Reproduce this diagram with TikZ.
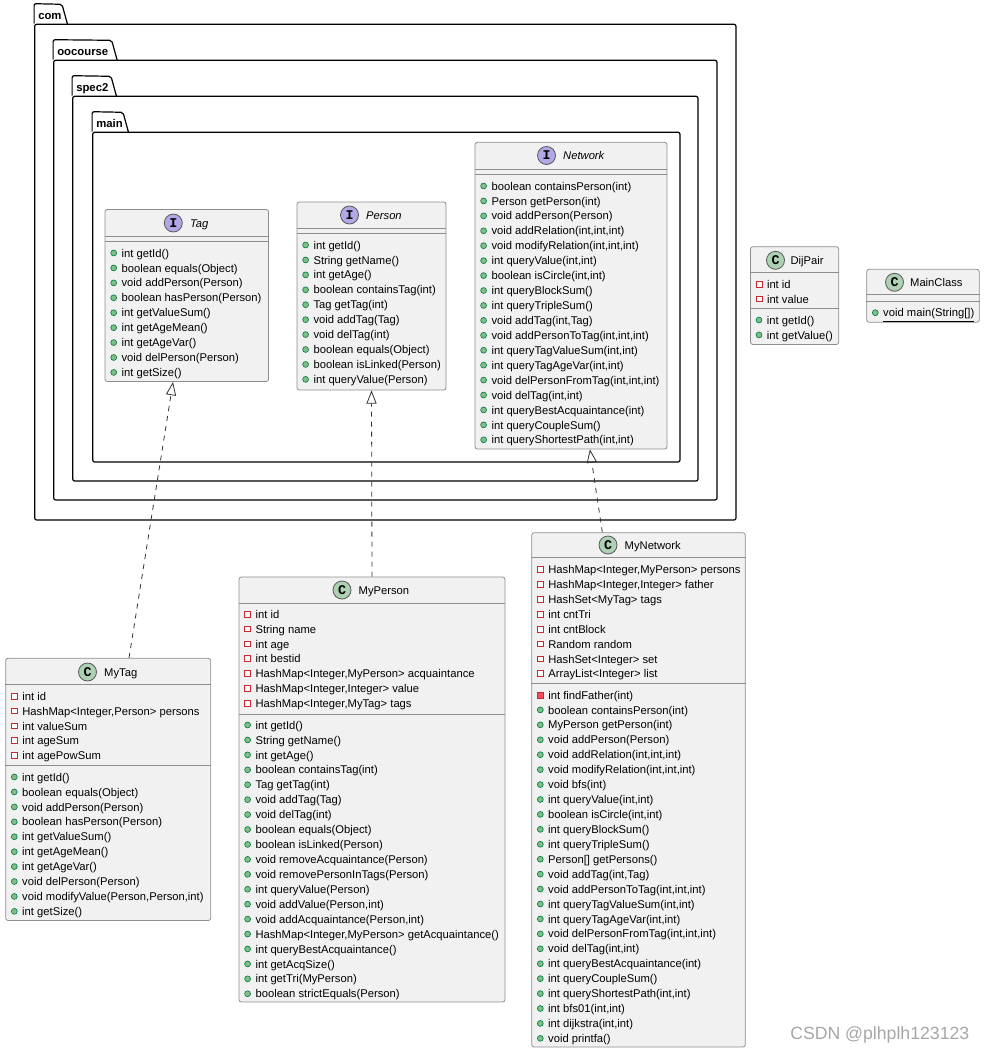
\documentclass[tikz,border=0pt]{standalone}
\usepackage{fontspec}
\setmainfont{Liberation Sans}
\setmonofont{Liberation Mono}
\usetikzlibrary{positioning,fit,arrows.meta}

\definecolor{boxgray}{HTML}{F1F1F1}
\definecolor{boxline}{HTML}{8E8E8E}
\definecolor{classgreen}{HTML}{ADD1B2}
\definecolor{ifacepurple}{HTML}{B4A7E5}
\definecolor{pubfill}{HTML}{84BE84}
\definecolor{publine}{HTML}{038048}
\definecolor{privline}{HTML}{C82930}
\definecolor{privfill}{HTML}{F24D5C}

\newcommand{\umlpackage}[7]{
  \node[pkgbody, fit={(#2,#3) (#4,#5)}] (#1) {};
  \draw[pkgline] (#1.north west) -- ++(0,-20) -- (#6,#3-20) -- ++(5.5,20);
  \node[pkgtitle] (#1-title) at (#2+3.3,#3-9.5) {#7};
}
\newcommand{\umlclass}[5]{
  \node[classbox, fit={(#2,#3) (#4,#5)}] (#1) {};
}
\newcommand{\umlhead}[7][5.3pt]{
  \node[#3] (#2-mark) at (#4,#5) {#6};
  \node[headtext, right=#1 of #2-mark] (#2-title) {#7};
}
\newcommand{\umlsep}[2]{
  \draw[sepline] (#1.west |- 0,#2) -- (#1.east |- 0,#2);
}
\newcommand{\umlrows}[5]{
  \foreach \rowtext [count=\i] in {#5} {
    \node[#2] (#1-d\i) at (#3,{#4+(\i-1)*14.93}) {};
    \node[rowtext, right=3.3pt of #1-d\i] (#1-t\i) {\rowtext};
  }
}

\begin{document}
\begin{tikzpicture}[
  x=0.75pt, y=-0.75pt,
  pkgbody/.style={draw, line width=0.9pt, rounded corners=1.5pt, inner sep=0pt},
  pkgline/.style={draw, line width=0.9pt, rounded corners=1.5pt},
  pkgtitle/.style={anchor=west, inner sep=0pt, text height=7.8pt, text depth=1.2pt, font=\fontsize{8.5}{10}\selectfont\bfseries},
  classbox/.style={draw=boxline, fill=boxgray, line width=0.6pt, rounded corners=1.8pt, inner sep=0pt},
  sepline/.style={draw=boxline, line width=0.6pt},
  cmark/.style={circle, draw=black!65, fill=classgreen, line width=0.6pt, minimum size=13.5pt, inner sep=0pt, font=\fontsize{10}{10}\ttfamily\bfseries},
  imark/.style={cmark, fill=ifacepurple},
  headtext/.style={inner sep=0pt, text height=7.8pt, text depth=1.2pt, font=\fontsize{8.4}{10}\selectfont},
  rowtext/.style={inner sep=0pt, text height=7.6pt, text depth=1.4pt, font=\fontsize{8.42}{10}\selectfont},
  pubrow/.style={circle, draw=publine, fill=pubfill, line width=0.5pt, minimum size=4.4pt, inner sep=0pt},
  privrow/.style={rectangle, draw=privline, fill=white, line width=0.6pt, minimum size=4.4pt, inner sep=0pt},
  privfunc/.style={privrow, fill=privfill},
  realize/.style={draw=black!80, line width=0.6pt, dash pattern=on 3.75pt off 3.75pt, -{Triangle[open, length=10pt, width=7.6pt]}},
  stamp/.style={inner sep=0pt, text=black!35, font=\fontsize{13.25}{15}\selectfont}
]
\useasboundingbox (0,0) rectangle (984,1052);

\umlpackage{com}{34.7}{24.3}{736}{520}{62}{com}
\umlpackage{oocourse}{53.7}{60.3}{717}{500}{111.7}{oocourse}
\umlpackage{spec2}{72.7}{96.3}{698}{481}{111}{spec2}
\umlpackage{main}{92.7}{132.3}{680}{462}{123}{main}

\umlclass{tag}{105}{209.5}{268.5}{381.5}
\umlhead{tag}{imark}{173.3}{223}{I}{\textit{Tag}}
\umlsep{tag}{236}
\umlsep{tag}{241.3}
\umlrows{tag-m}{pubrow}{113.7}{253}{int getId(), boolean equals(Object), void addPerson(Person), boolean hasPerson(Person), int getValueSum(), int getAgeMean(), int getAgeVar(), void delPerson(Person), int getSize()}

\umlclass{person}{297}{202}{446}{390}
\umlhead{person}{imark}{349.5}{215}{I}{\textit{Person}}
\umlsep{person}{228}
\umlsep{person}{233.3}
\umlrows{person-m}{pubrow}{305.6}{245}{int getId(), String getName(), int getAge(), boolean containsTag(int), Tag getTag(int), void addTag(Tag), void delTag(int), boolean equals(Object), boolean isLinked(Person), int queryValue(Person)}

\umlclass{network}{475}{142.3}{667}{449}
\umlhead{network}{imark}{546.5}{155.5}{I}{\textit{Network}}
\umlsep{network}{169}
\umlsep{network}{174.3}
\umlrows{network-m}{pubrow}{483.6}{186}{boolean containsPerson(int), Person getPerson(int), void addPerson(Person), {void addRelation(int,int,int)}, {void modifyRelation(int,int,int)}, {int queryValue(int,int)}, {boolean isCircle(int,int)}, int queryBlockSum(), int queryTripleSum(), {void addTag(int,Tag)}, {void addPersonToTag(int,int,int)}, {int queryTagValueSum(int,int)}, {int queryTagAgeVar(int,int)}, {void delPersonFromTag(int,int,int)}, {void delTag(int,int)}, int queryBestAcquaintance(int), int queryCoupleSum(), {int queryShortestPath(int,int)}}

\umlclass{dijpair}{750.5}{246.7}{838.7}{344.5}
\umlhead[4.1pt]{dijpair}{cmark}{775.5}{260.3}{C}{DijPair}
\umlsep{dijpair}{272.3}
\umlsep{dijpair}{308}
\umlrows{dijpair-f}{privrow}{759}{284}{int id, int value}
\umlrows{dijpair-m}{pubrow}{759}{320}{int getId(), int getValue()}

\umlclass{mainclass}{866.7}{269.3}{979.3}{322.3}
\umlhead[4.5pt]{mainclass}{cmark}{894.5}{282.3}{C}{MainClass}
\umlsep{mainclass}{294.3}
\umlsep{mainclass}{301.7}
\umlrows{mainclass-m}{pubrow}{875.3}{312.7}{\underline{void main(String[])}}

\umlclass{mytag}{5.7}{658.3}{210.7}{920.5}
\umlhead{mytag}{cmark}{87.5}{672}{C}{MyTag}
\umlsep{mytag}{684.3}
\umlsep{mytag}{765.7}
\umlrows{mytag-f}{privrow}{14.3}{696}{int id, {HashMap<Integer,Person> persons}, int valueSum, int ageSum, int agePowSum}
\umlrows{mytag-m}{pubrow}{14.3}{777}{int getId(), boolean equals(Object), void addPerson(Person), boolean hasPerson(Person), int getValueSum(), int getAgeMean(), int getAgeVar(), void delPerson(Person), {void modifyValue(Person,Person,int)}, int getSize()}

\umlclass{myperson}{239}{577}{505}{1002}
\umlhead{myperson}{cmark}{342}{590}{C}{MyPerson}
\umlsep{myperson}{603}
\umlsep{myperson}{714}
\umlrows{myperson-f}{privrow}{247.6}{614}{int id, String name, int age, int bestid, {HashMap<Integer,MyPerson> acquaintance}, {HashMap<Integer,Integer> value}, {HashMap<Integer,MyTag> tags}}
\umlrows{myperson-m}{pubrow}{247.6}{725}{int getId(), String getName(), int getAge(), boolean containsTag(int), Tag getTag(int), void addTag(Tag), void delTag(int), boolean equals(Object), boolean isLinked(Person), void removeAcquaintance(Person), void removePersonInTags(Person), int queryValue(Person), {void addValue(Person,int)}, {void addAcquaintance(Person,int)}, {HashMap<Integer,MyPerson> getAcquaintance()}, int queryBestAcquaintance(), int getAcqSize(), int getTri(MyPerson), boolean strictEquals(Person)}

\umlclass{mynetwork}{531.7}{532.7}{745.3}{1047}
\umlhead{mynetwork}{cmark}{608}{545}{C}{MyNetwork}
\umlsep{mynetwork}{557.3}
\umlsep{mynetwork}{683.7}
\umlrows{mynetwork-f}{privrow}{540.3}{569.3}{{HashMap<Integer,MyPerson> persons}, {HashMap<Integer,Integer> father}, HashSet<MyTag> tags, int cntTri, int cntBlock, Random random, HashSet<Integer> set, ArrayList<Integer> list}
\umlrows{mynetwork-p}{privfunc}{540.3}{695}{int findFather(int)}
\umlrows{mynetwork-m}{pubrow}{540.3}{709.9}{boolean containsPerson(int), MyPerson getPerson(int), void addPerson(Person), {void addRelation(int,int,int)}, {void modifyRelation(int,int,int)}, void bfs(int), {int queryValue(int,int)}, {boolean isCircle(int,int)}, int queryBlockSum(), int queryTripleSum(), Person[] getPersons(), {void addTag(int,Tag)}, {void addPersonToTag(int,int,int)}, {int queryTagValueSum(int,int)}, {int queryTagAgeVar(int,int)}, {void delPersonFromTag(int,int,int)}, {void delTag(int,int)}, int queryBestAcquaintance(int), int queryCoupleSum(), {int queryShortestPath(int,int)}, {int bfs01(int,int)}, {int dijkstra(int,int)}, void printfa()}

\draw[realize] (mytag.81) -- (tag.261.5);
\draw[realize] (myperson.north) -- (person.south);
\draw[realize] (mynetwork.98.1) -- (network.277.4);

\node[stamp, anchor=west] (csdn) at (790,1035) {CSDN @plhplh123123};
\end{tikzpicture}
\end{document}
